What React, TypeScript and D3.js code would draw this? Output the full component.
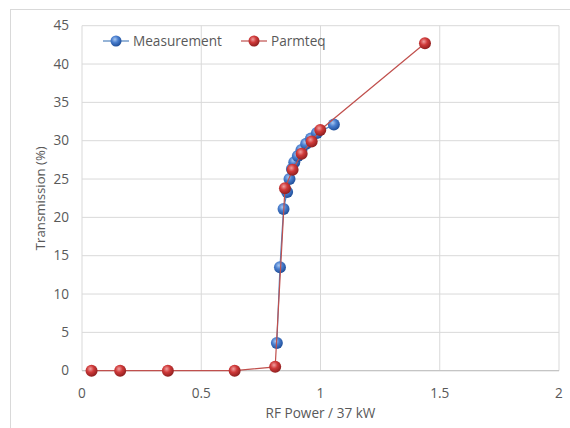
import React from "react";
import * as d3 from "d3";

const measX = [0.817, 0.830, 0.845, 0.860, 0.870, 0.880, 0.890, 0.905, 0.920, 0.940, 0.960, 0.985, 1.056];
const measY = [3.6, 13.5, 21.1, 23.3, 25.0, 26.3, 27.2, 28.0, 28.8, 29.6, 30.3, 31.0, 32.1];
const parmX = [0.04, 0.16, 0.36, 0.64, 0.81, 0.851, 0.883, 0.921, 0.963, 0.999, 1.438];
const parmY = [0, 0, 0, 0, 0.5, 23.8, 26.2, 28.3, 29.9, 31.4, 42.7];
const xTicks = [0, 0.5, 1, 1.5, 2];
const yTicks = [0, 5, 10, 15, 20, 25, 30, 35, 40, 45];
const seriesNames = ["Measurement", "Parmteq"];

const W = 570, H = 428;
const left = 82, right = 559, top = 25.7, bottom = 370.7;
const font = "'Open Sans', 'Liberation Sans', sans-serif";
const textColor = "#595959";
const fs = 13.6;

export default function App() {
  const x = d3.scaleLinear().domain([0, 2]).range([left, right]);
  const y = d3.scaleLinear().domain([0, 45]).range([bottom, top]);
  const line = d3.line<[number, number]>().x(d => x(d[0])).y(d => y(d[1]));
  const meas: [number, number][] = measX.map((v, i) => [v, measY[i]]);
  const parm: [number, number][] = parmX.map((v, i) => [v, parmY[i]]);
  const r = 6;

  return (
    <svg width={W} height={H} style={{ display: "block", position: "absolute", left: 0, top: 0 }}>
      <defs>
        <radialGradient id="gBlue" cx="40%" cy="35%" r="65%">
          <stop offset="0%" stopColor="#a9c8f0" />
          <stop offset="45%" stopColor="#4a7fcf" />
          <stop offset="100%" stopColor="#1f4e99" />
        </radialGradient>
        <radialGradient id="gRed" cx="40%" cy="35%" r="65%">
          <stop offset="0%" stopColor="#f0a0a0" />
          <stop offset="45%" stopColor="#d03a3a" />
          <stop offset="100%" stopColor="#8f1f1f" />
        </radialGradient>
      </defs>
      <rect x={0} y={0} width={W} height={H} fill="#fff" />
      <rect x={10.5} y={9.5} width={W + 10} height={H + 10} fill="none" stroke="#d9d9d9" />
      {yTicks.map(t => (
        <line key={"gy" + t} x1={left} x2={right} y1={y(t)} y2={y(t)} stroke="#d9d9d9" strokeWidth={1} />
      ))}
      {xTicks.map(t => (
        <line key={"gx" + t} x1={x(t)} x2={x(t)} y1={top} y2={bottom} stroke="#d9d9d9" strokeWidth={1} />
      ))}
      <line x1={left} x2={right} y1={bottom} y2={bottom} stroke="#bfbfbf" />
      {yTicks.map(t => (
        <text key={"ty" + t} x={69} y={y(t)} dy="0.35em" textAnchor="end" fontFamily={font} fontSize={fs} fill={textColor}>{t}</text>
      ))}
      {xTicks.map(t => (
        <text key={"tx" + t} x={x(t)} y={393} dy="0.35em" textAnchor="middle" fontFamily={font} fontSize={fs} fill={textColor}>{t}</text>
      ))}
      <text x={(left + right) / 2} y={413} dy="0.35em" textAnchor="middle" fontFamily={font} fontSize={fs} fill={textColor}>RF Power / 37 kW</text>
      <text transform={`translate(40,${(top + bottom) / 2}) rotate(-90)`} textAnchor="middle" dy="0.35em" fontFamily={font} fontSize={13.2} fill={textColor}>Transmission (%)</text>

      <path d={line(meas) || ""} fill="none" stroke="#4f81bd" strokeWidth={1.2} />
      {meas.map((d, i) => (
        <circle key={"m" + i} cx={x(d[0])} cy={y(d[1])} r={r} fill="url(#gBlue)" />
      ))}
      <path d={line(parm) || ""} fill="none" stroke="#c0504d" strokeWidth={1.2} />
      {parm.map((d, i) => (
        <circle key={"p" + i} cx={x(d[0])} cy={y(d[1])} r={r} fill="url(#gRed)" />
      ))}

      <g>
        <line x1={103} x2={129} y1={41} y2={41} stroke="#4f81bd" strokeWidth={1.2} />
        <circle cx={116} cy={41} r={5.5} fill="url(#gBlue)" />
        <text x={133} y={41} dy="0.35em" fontFamily={font} fontSize={fs} fill={textColor}>{seriesNames[0]}</text>
        <line x1={241} x2={267} y1={41} y2={41} stroke="#c0504d" strokeWidth={1.2} />
        <circle cx={254} cy={41} r={5.5} fill="url(#gRed)" />
        <text x={271} y={41} dy="0.35em" fontFamily={font} fontSize={fs} fill={textColor}>{seriesNames[1]}</text>
      </g>
    </svg>
  );
}
